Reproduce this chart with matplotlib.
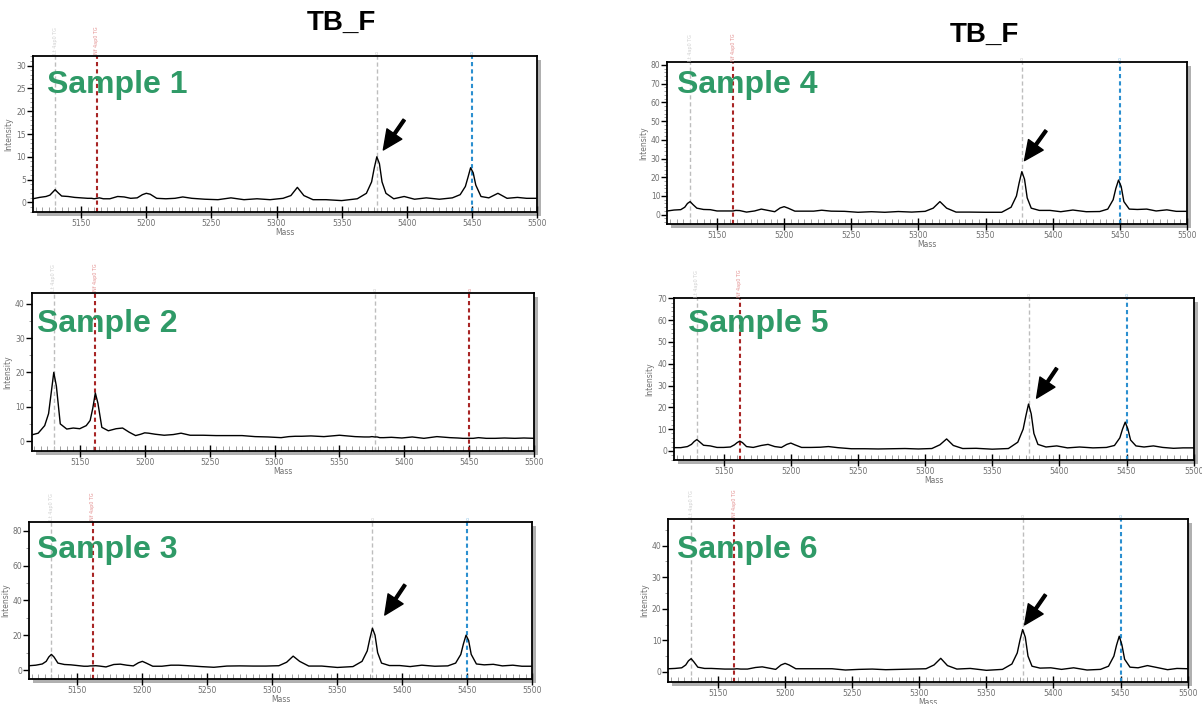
import matplotlib
matplotlib.use("Agg")
import matplotlib.pyplot as plt
import matplotlib.patheffects as pe
import matplotlib.transforms as mtransforms
from matplotlib.ticker import MultipleLocator

# mass grid shared by all spectra
mass = [5113, 5118, 5123, 5126, 5128, 5130, 5132, 5135, 5140, 5145,
        5150, 5155, 5158, 5160, 5162, 5164, 5167, 5172, 5178, 5183,
        5188, 5193, 5197, 5200, 5203, 5208, 5215, 5222, 5228, 5235,
        5245, 5255, 5265, 5275, 5285, 5295, 5305, 5311, 5316, 5321,
        5328, 5338, 5350, 5362, 5369, 5373, 5375, 5377, 5379, 5381,
        5384, 5390, 5398, 5406, 5415, 5425, 5435, 5441, 5445, 5447,
        5449, 5451, 5453, 5457, 5463, 5470, 5477, 5485, 5492, 5500]

sample1 = [0.8, 1.1, 1.3, 1.6, 2.2, 2.8, 2.2, 1.4, 1.3, 1.1,
           1.0, 0.9, 0.9, 0.8, 0.9, 1.0, 0.8, 0.8, 1.3, 1.2,
           0.9, 1.0, 1.7, 2.0, 1.8, 0.9, 0.8, 0.9, 1.2, 0.9,
           0.7, 0.6, 1.0, 0.6, 0.8, 0.6, 0.9, 1.5, 3.3, 1.5,
           0.6, 0.6, 0.4, 0.8, 2.0, 4.5, 7.5, 10.0, 8.5, 4.5,
           2.0, 0.8, 1.3, 0.7, 1.0, 0.7, 1.0, 1.7, 3.5, 5.5,
           7.6, 6.5, 3.8, 1.3, 1.0, 2.0, 0.9, 1.1, 0.9, 0.9]
sample2 = [1.8, 2.3, 4.5, 8.0, 14.0, 20.0, 16.0, 5.0, 3.5, 3.8,
           3.6, 4.5, 6.0, 9.5, 14.0, 11.0, 4.0, 3.0, 3.6, 3.8,
           2.6, 1.6, 2.0, 2.4, 2.3, 2.0, 1.7, 1.9, 2.3, 1.7,
           1.7, 1.6, 1.6, 1.6, 1.3, 1.2, 1.0, 1.3, 1.4, 1.4,
           1.5, 1.3, 1.7, 1.3, 1.2, 1.2, 1.3, 1.2, 1.2, 1.0,
           1.0, 1.1, 0.9, 1.2, 0.8, 1.3, 1.0, 0.9, 0.8, 0.8,
           0.8, 0.8, 0.8, 1.0, 0.8, 0.8, 0.9, 0.8, 0.9, 0.8]
sample3 = [2.5, 2.8, 3.5, 5.0, 7.5, 9.0, 7.5, 4.0, 3.2, 3.0,
           2.6, 2.2, 2.2, 2.4, 2.4, 2.5, 2.3, 1.8, 3.2, 3.4,
           2.8, 2.4, 4.2, 5.0, 4.0, 2.2, 2.2, 2.8, 2.8, 2.5,
           2.0, 1.6, 2.3, 2.4, 2.3, 2.3, 2.5, 4.5, 8.0, 5.0,
           2.3, 2.3, 1.5, 2.0, 5.0, 11.0, 18.0, 24.0, 20.0, 10.0,
           4.0, 2.6, 2.6, 2.0, 2.8, 2.2, 2.4, 4.0, 9.0, 15.0,
           20.0, 17.0, 9.0, 3.5, 3.0, 3.3, 2.4, 2.8, 2.2, 2.2]
sample4 = [2.0, 2.5, 2.7, 4.0, 6.0, 7.0, 5.5, 3.5, 2.8, 2.7,
           2.0, 2.0, 2.0, 2.0, 2.0, 2.3, 2.2, 1.4, 2.0, 3.0,
           2.3, 1.6, 3.6, 4.3, 3.5, 1.9, 1.9, 1.9, 2.4, 1.9,
           1.8, 1.3, 1.6, 1.3, 1.7, 1.4, 1.8, 3.5, 7.0, 3.5,
           1.4, 1.4, 1.3, 1.3, 4.0, 10.0, 17.0, 23.0, 19.0, 9.0,
           3.5, 2.3, 2.3, 1.6, 2.5, 1.6, 1.7, 3.0, 8.0, 14.0,
           18.5, 15.0, 7.0, 3.0, 2.8, 3.0, 2.0, 2.6, 1.8, 1.8]
sample5 = [1.5, 1.5, 2.0, 3.0, 4.3, 5.2, 4.2, 2.6, 2.3, 1.6,
           1.6, 1.8, 2.8, 3.8, 4.5, 3.8, 2.0, 1.6, 2.5, 3.0,
           2.0, 1.6, 3.0, 3.6, 2.8, 1.6, 1.6, 1.7, 2.0, 1.5,
           1.0, 1.0, 0.9, 1.0, 1.1, 0.9, 1.1, 2.8, 5.5, 2.5,
           1.1, 1.2, 0.8, 1.1, 4.0, 10.0, 16.0, 21.5, 17.0, 8.0,
           3.0, 1.8, 2.3, 1.4, 1.8, 1.4, 1.6, 2.5, 6.0, 10.0,
           13.2, 10.0, 5.0, 2.3, 1.8, 2.3, 1.6, 1.2, 1.4, 1.4]
sample6 = [1.0, 1.1, 1.3, 2.2, 3.5, 4.2, 3.2, 1.5, 1.1, 1.1,
           1.0, 0.9, 0.9, 0.9, 0.9, 1.0, 0.9, 0.9, 1.4, 1.6,
           1.2, 0.8, 2.2, 2.7, 2.2, 1.0, 1.0, 1.0, 1.0, 1.0,
           0.6, 0.8, 0.9, 0.7, 0.8, 0.9, 1.0, 2.2, 4.3, 2.0,
           0.9, 1.1, 0.5, 0.8, 2.5, 6.0, 10.0, 13.4, 11.0, 5.0,
           1.8, 1.2, 1.3, 0.8, 1.3, 0.6, 0.8, 1.8, 5.0, 8.5,
           11.3, 8.5, 4.0, 1.5, 1.3, 2.0, 1.4, 0.7, 1.1, 1.0]

spectra = [sample1, sample2, sample3, sample4, sample5, sample6]
names = ["Sample 1", "Sample 2", "Sample 3", "Sample 4", "Sample 5", "Sample 6"]

# reference mass lines and their colours
line_mass = [5130, 5162, 5377, 5450]
line_tags = ["Lt 4ap0 TG", "Nf 4ap0 TG", "o", "o"]
line_colors = [["grey", "red", "grey", "blue"],
               ["grey", "red", "grey", "red"],
               ["grey", "red", "grey", "blue"],
               ["grey", "red", "grey", "blue"],
               ["grey", "red", "grey", "blue"],
               ["grey", "red", "grey", "blue"]]

ylims = [(-2.1, 32.1), (-2.8, 43.2), (-5.3, 85), (-4.8, 81.4), (-4.3, 70), (-3.1, 48.4)]
ymajor = [5, 10, 20, 10, 10, 10]
yminor = [1, 5, 10, 2, 2, 5]

# arrows (tail, head) pointing at the 5377 peak; none for sample 2
arrows = [((5398, 18.1), (5382, 11.5)),
          None,
          ((5402, 48.9), (5386.5, 31.6)),
          ((5395, 44.9), (5379, 28.9)),
          ((5398, 37.9), (5383, 24.2)),
          ((5394, 24.4), (5378.5, 14.9))]

W, H = 1202, 704
# axes boxes in pixels: left, top, right, bottom
boxes = [(33, 56, 537, 212), (31.7, 292.7, 534.3, 450.7), (29.3, 522, 532.3, 679.3),
         (667.3, 62.3, 1187, 223.7), (674, 298.3, 1193.7, 460.3), (668.3, 519, 1187.7, 681.7)]
label_pos = [(47, 93), (37, 332), (37, 558), (677, 93), (688, 332), (677, 558)]

colmap = {"grey": ("#bdbdbd", 1.0, (3, 2)), "red": ("#a82525", 1.5, (2, 1.5)),
          "blue": ("#2b8fd0", 1.5, (2, 1.5))}
tagcol = {"grey": "#d0d0d0", "red": "#e39090", "blue": "#9ccbea"}

fig = plt.figure(figsize=(W / 100, H / 100), dpi=100)
fig.patch.set_facecolor("white")

tick_grey = "#707070"
for i in range(6):
    l, t, r, b = boxes[i]
    ax = fig.add_axes([l / W, 1 - b / H, (r - l) / W, (b - t) / H])
    ax.patch.set_path_effects([pe.withSimplePatchShadow(offset=(3, -3), shadow_rgbFace="#b0b0b0", alpha=1.0)])
    ax.plot(mass, spectra[i], color="black", lw=1.0, zorder=3)
    ax.set_xlim(5113, 5500)
    ax.set_ylim(*ylims[i])

    trans = mtransforms.blended_transform_factory(ax.transData, ax.transAxes)
    for m, tag, c in zip(line_mass, line_tags, line_colors[i]):
        col, lw, dash = colmap[c]
        ax.axvline(m, color=col, lw=lw, dashes=dash, zorder=2)
        if tag == "o":
            ax.text(m, 1.0, tag, transform=trans, fontsize=4, color=tagcol[c],
                    ha="center", va="bottom", clip_on=False)
        else:
            ax.text(m, 1.01, tag, transform=trans, fontsize=3.5, color=tagcol[c],
                    rotation=90, ha="center", va="bottom", clip_on=False)

    for s in ax.spines.values():
        s.set_linewidth(1.3)
        s.set_color("black")
    ax.xaxis.set_major_locator(MultipleLocator(50))
    ax.xaxis.set_minor_locator(MultipleLocator(5))
    ax.yaxis.set_major_locator(MultipleLocator(ymajor[i]))
    ax.yaxis.set_minor_locator(MultipleLocator(yminor[i]))
    ax.tick_params(axis="x", which="major", direction="inout", length=8, width=1, color="black",
                   labelsize=5.5, labelcolor=tick_grey, pad=1)
    ax.tick_params(axis="x", which="minor", direction="in", length=3.5, width=0.6, color="#909090")
    ax.tick_params(axis="y", which="major", direction="out", length=4, width=1, color="black",
                   labelsize=5.5, labelcolor=tick_grey, pad=1)
    ax.tick_params(axis="y", which="minor", direction="out", length=2, width=0.6, color="#909090")
    ax.set_xlabel("Mass", fontsize=5.5, color=tick_grey, labelpad=0)
    ax.set_ylabel("Intensity", fontsize=5.5, color=tick_grey, labelpad=2)

    if arrows[i] is not None:
        tail, head = arrows[i]
        ax.annotate("", xy=head, xytext=tail, zorder=5,
                    arrowprops=dict(facecolor="black", edgecolor="black", width=2.0,
                                    headwidth=13, headlength=14, shrink=0))

    lx, ly = label_pos[i]
    fig.text(lx / W, 1 - ly / H, names[i], fontsize=23, fontweight="bold",
             family="Liberation Sans", color="#2f9a67", ha="left", va="baseline", zorder=10)

fig.text(341 / W, 1 - 30 / H, "TB_F", fontsize=20, fontweight="bold",
         family="Liberation Sans", color="black", ha="center", va="baseline")
fig.text(984 / W, 1 - 42 / H, "TB_F", fontsize=20, fontweight="bold",
         family="Liberation Sans", color="black", ha="center", va="baseline")

fig.savefig("out.png", dpi=100, facecolor="white")
